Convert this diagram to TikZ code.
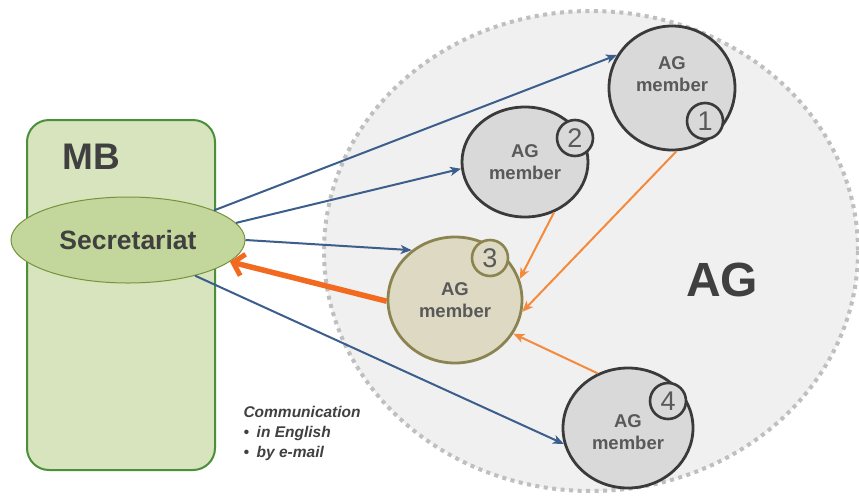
\documentclass[tikz,border=0pt]{standalone}
\usepackage{fontspec}
\setmainfont{Liberation Sans}
\usetikzlibrary{arrows.meta,shapes.geometric}
\definecolor{mbfill}{HTML}{D7E4BD}
\definecolor{mbline}{HTML}{4A8F3A}
\definecolor{secfill}{HTML}{C3D69B}
\definecolor{secline}{HTML}{77933C}
\definecolor{txt}{HTML}{404040}
\definecolor{memtxt}{HTML}{595959}
\definecolor{memfill}{HTML}{D9D9D9}
\definecolor{memline}{HTML}{3A3A3A}
\definecolor{m3fill}{HTML}{DDD9C3}
\definecolor{m3line}{HTML}{8C8450}
\definecolor{agfill}{HTML}{F0F0F0}
\definecolor{agline}{HTML}{BFBFBF}
\definecolor{blueln}{HTML}{3B5E8C}
\definecolor{orln}{HTML}{F48A3C}
\definecolor{orthick}{HTML}{F26A1F}
\tikzset{
  member/.style={ellipse, draw=memline, fill=memfill, line width=2.8pt, inner sep=0pt,
    text=memtxt, font=\bfseries\fontsize{18.5}{22}\selectfont, align=center},
  memtext/.style={text=memtxt, font=\bfseries\fontsize{18.5}{22}\selectfont, align=center},
  numcirc/.style={circle, draw=memline, fill=memfill, line width=2.6pt, minimum size=36pt, inner sep=0pt,
    text=memtxt, font=\fontsize{27}{27}\selectfont},
  bluearrow/.style={draw=blueln, line width=2pt, -{Stealth[length=11pt,width=9pt,inset=3pt]}},
  orarrow/.style={draw=orln, line width=2pt, -{Stealth[length=11pt,width=9pt,inset=3pt]}},
}
\begin{document}
\begin{tikzpicture}[x=1pt,y=-1pt]
\useasboundingbox (0,0) rectangle (859,496);
\fill[white] (0,0) rectangle (859,496);
% AG big circle
\begin{scope}
\clip (0,0) rectangle (859,496);
\draw[agline, fill=agfill, line width=4pt, dash pattern=on 4pt off 4.5pt] (591,251) ellipse [x radius=267, y radius=240];
\end{scope}
\node[text=txt, font=\bfseries\fontsize{48}{48}\selectfont] (ag) at (722,280) {AG};
% MB box
\node[draw=mbline, fill=mbfill, line width=2pt, rounded corners=22pt, minimum width=188pt, minimum height=350pt] (mb) at (121,295) {};
\node[text=txt, font=\bfseries\fontsize{37}{37}\selectfont, anchor=west] (mbl) at (59,157) {MB};
% Secretariat
\node[ellipse, draw=secline, fill=secfill, line width=1pt, minimum width=234pt, minimum height=86pt, inner sep=0pt,
  text=txt, font=\bfseries\fontsize{26.5}{26.5}\selectfont] (sec) at (128,240) {Secretariat};
% members
\node[member, minimum width=126pt, minimum height=124pt] (m1) at (672,88) {};
\node[memtext] (t1) at (672,74) {AG\\member};
\node[numcirc] (n1) at (705,121) {1};
\node[member, minimum width=126pt, minimum height=110pt] (m2) at (525,162) {AG\\member};
\node[numcirc] (n2) at (575,138) {2};
\node[member, draw=m3line, fill=m3fill, minimum width=134pt, minimum height=126pt] (m3) at (455,300) {AG\\member};
\node[numcirc, draw=m3line, fill=m3fill] (n3) at (490,258) {3};
\node[member, minimum width=130pt, minimum height=120pt] (m4) at (628,428) {};
\node[memtext] (t4) at (628,432) {AG\\member};
\node[numcirc] (n4) at (668,401) {4};
% blue arrows
\draw[bluearrow] (sec.19) -- (m1.149);
\draw[bluearrow] (sec.9) -- (m2.186);
\draw[bluearrow] (sec.0) -- (m3.131);
\draw[bluearrow] (sec.-28) -- (m4.194);
% orange arrows
\draw[orarrow] (m1.-86) -- (m3.-10);
\draw[orarrow] (m2.-60) -- (m3.18);
\draw[orarrow] (m4.119) -- (m3.-30);
\draw[draw=orthick, line width=5.5pt, -{Straight Barb[length=10pt,width=22pt,line width=5pt]}] (m3.181) -- (sec.-12);
% communication note
\node[anchor=north west, align=left, text=txt, font=\bfseries\itshape\fontsize{15.5}{20}\selectfont] (note) at (240,403)
  {Communication\\\textbullet\enspace in English\\\textbullet\enspace by e-mail};
\end{tikzpicture}
\end{document}
